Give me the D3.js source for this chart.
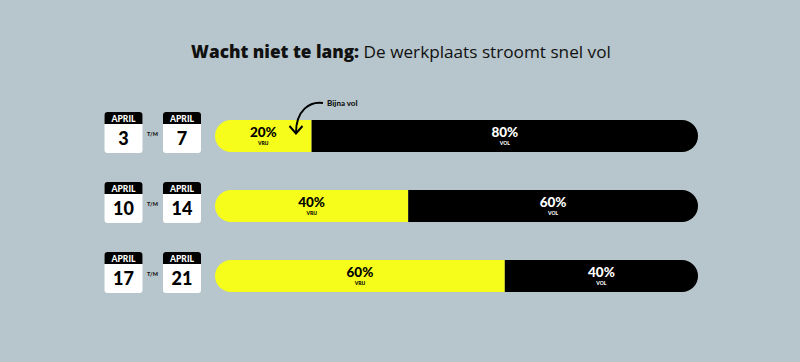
<!DOCTYPE html>
<html>
<head>
<meta charset="utf-8">
<script src="https://cdn.jsdelivr.net/npm/d3@7"></script>
<style>
  body { margin: 0; background: #b7c5cc; }
  svg { display: block; }
</style>
</head>
<body>
<script>
// capaciteit werkplaats per week
let w = 800;
let h = 362;

let months = ["APRIL", "APRIL", "APRIL"];
let startDays = [3, 10, 17];
let endDays = [7, 14, 21];
let vrij = [20, 40, 60];
let vol = vrij.map(v => 100 - v);

let yellow = "#f6fd1b";
let font = "Lato, 'Noto Sans', sans-serif";

let svg = d3.select('body').append('svg')
    .attr('width', w)
    .attr('height', h);

svg.append('rect')
    .attr('width', w)
    .attr('height', h)
    .attr('fill', '#b7c5cc');

// titel
let title = svg.append('text')
    .attr('x', 401)
    .attr('y', 58)
    .attr('text-anchor', 'middle')
    .attr('font-family', "'Open Sans', sans-serif")
    .attr('font-size', 17.2)
    .attr('fill', '#111');
title.append('tspan').attr('font-weight', 800).text('Wacht niet te lang: ');
title.append('tspan').attr('font-weight', 400).text('De werkplaats stroomt snel vol');

let x = d3.scaleLinear().domain([0, 100]).range([215, 698]);
let y = d3.scaleBand()
    .domain(d3.range(vrij.length))
    .range([120, 292])
    .paddingInner(38 / 70)
    .paddingOuter(0);

let bh = y.bandwidth();
let r = bh / 2;

function leftRound(x0, x1, y0) {
    return `M${x0 + r},${y0} H${x1} V${y0 + bh} H${x0 + r} A${r},${r} 0 0 1 ${x0 + r},${y0} Z`;
}
function rightRound(x0, x1, y0) {
    return `M${x0},${y0} H${x1 - r} A${r},${r} 0 0 1 ${x1 - r},${y0 + bh} H${x0} Z`;
}

let rows = svg.selectAll('g.row')
    .data(vrij.map((v, i) => ({ i: i, vrij: v, vol: vol[i] })))
    .enter()
    .append('g')
    .attr('class', 'row');

rows.append('path')
    .attr('d', d => leftRound(x(0), x(d.vrij), y(d.i)))
    .attr('fill', yellow);

rows.append('path')
    .attr('d', d => rightRound(x(d.vrij), x(100), y(d.i)))
    .attr('fill', '#000');

function barLabel(sel, cx, pct, sub, color) {
    sel.append('text')
        .attr('x', cx)
        .attr('y', d => y(d.i) + 17)
        .attr('text-anchor', 'middle')
        .attr('font-family', font)
        .attr('font-weight', 900)
        .attr('font-size', 13.5)
        .attr('fill', color)
        .text(pct);
    sel.append('text')
        .attr('x', cx)
        .attr('y', d => y(d.i) + 24.5)
        .attr('text-anchor', 'middle')
        .attr('font-family', font)
        .attr('font-weight', 900)
        .attr('font-size', 5)
        .attr('fill', color)
        .text(sub);
}

barLabel(rows, d => (x(0) + x(d.vrij)) / 2, d => d.vrij + '%', 'VRIJ', '#000');
barLabel(rows, d => (x(d.vrij) + x(100)) / 2, d => d.vol + '%', 'VOL', '#fff');

// kalender-icoontjes
function calendar(sel, cx, dayFn) {
    let cw = 38, ch = 41;
    let g = sel.append('g')
        .attr('transform', d => `translate(${cx - cw / 2},${y(d.i) - 8})`);
    g.append('rect')
        .attr('width', cw).attr('height', ch)
        .attr('rx', 3)
        .attr('fill', '#fff');
    g.append('path')
        .attr('d', `M0,3 A3,3 0 0 1 3,0 H${cw - 3} A3,3 0 0 1 ${cw},3 V12 H0 Z`)
        .attr('fill', '#000');
    g.append('text')
        .attr('x', cw / 2).attr('y', 9.5)
        .attr('text-anchor', 'middle')
        .attr('font-family', font)
        .attr('font-weight', 900)
        .attr('font-size', 8.5)
        .attr('fill', '#fff')
        .text(d => months[d.i]);
    g.append('text')
        .attr('x', cw / 2).attr('y', 32.5)
        .attr('text-anchor', 'middle')
        .attr('font-family', font)
        .attr('font-weight', 900)
        .attr('font-size', 18)
        .attr('fill', '#000')
        .text(dayFn);
}

calendar(rows, 123.5, d => startDays[d.i]);
calendar(rows, 182, d => endDays[d.i]);

rows.append('text')
    .attr('x', 152.5)
    .attr('y', d => y(d.i) + 16)
    .attr('text-anchor', 'middle')
    .attr('font-family', font)
    .attr('font-weight', 900)
    .attr('font-size', 5.5)
    .attr('fill', '#111')
    .text('T/M');

// annotatie
svg.append('text')
    .attr('x', 327)
    .attr('y', 106)
    .attr('font-family', font)
    .attr('font-weight', 900)
    .attr('font-size', 8)
    .attr('fill', '#111')
    .text('Bijna vol');

svg.append('path')
    .attr('d', 'M323,103 C310,101 296,110 296,133')
    .attr('fill', 'none')
    .attr('stroke', '#000')
    .attr('stroke-width', 2);
svg.append('path')
    .attr('d', 'M289.5,126 L296,133.5 L302.5,126')
    .attr('fill', 'none')
    .attr('stroke', '#000')
    .attr('stroke-width', 2);
</script>
</body>
</html>
